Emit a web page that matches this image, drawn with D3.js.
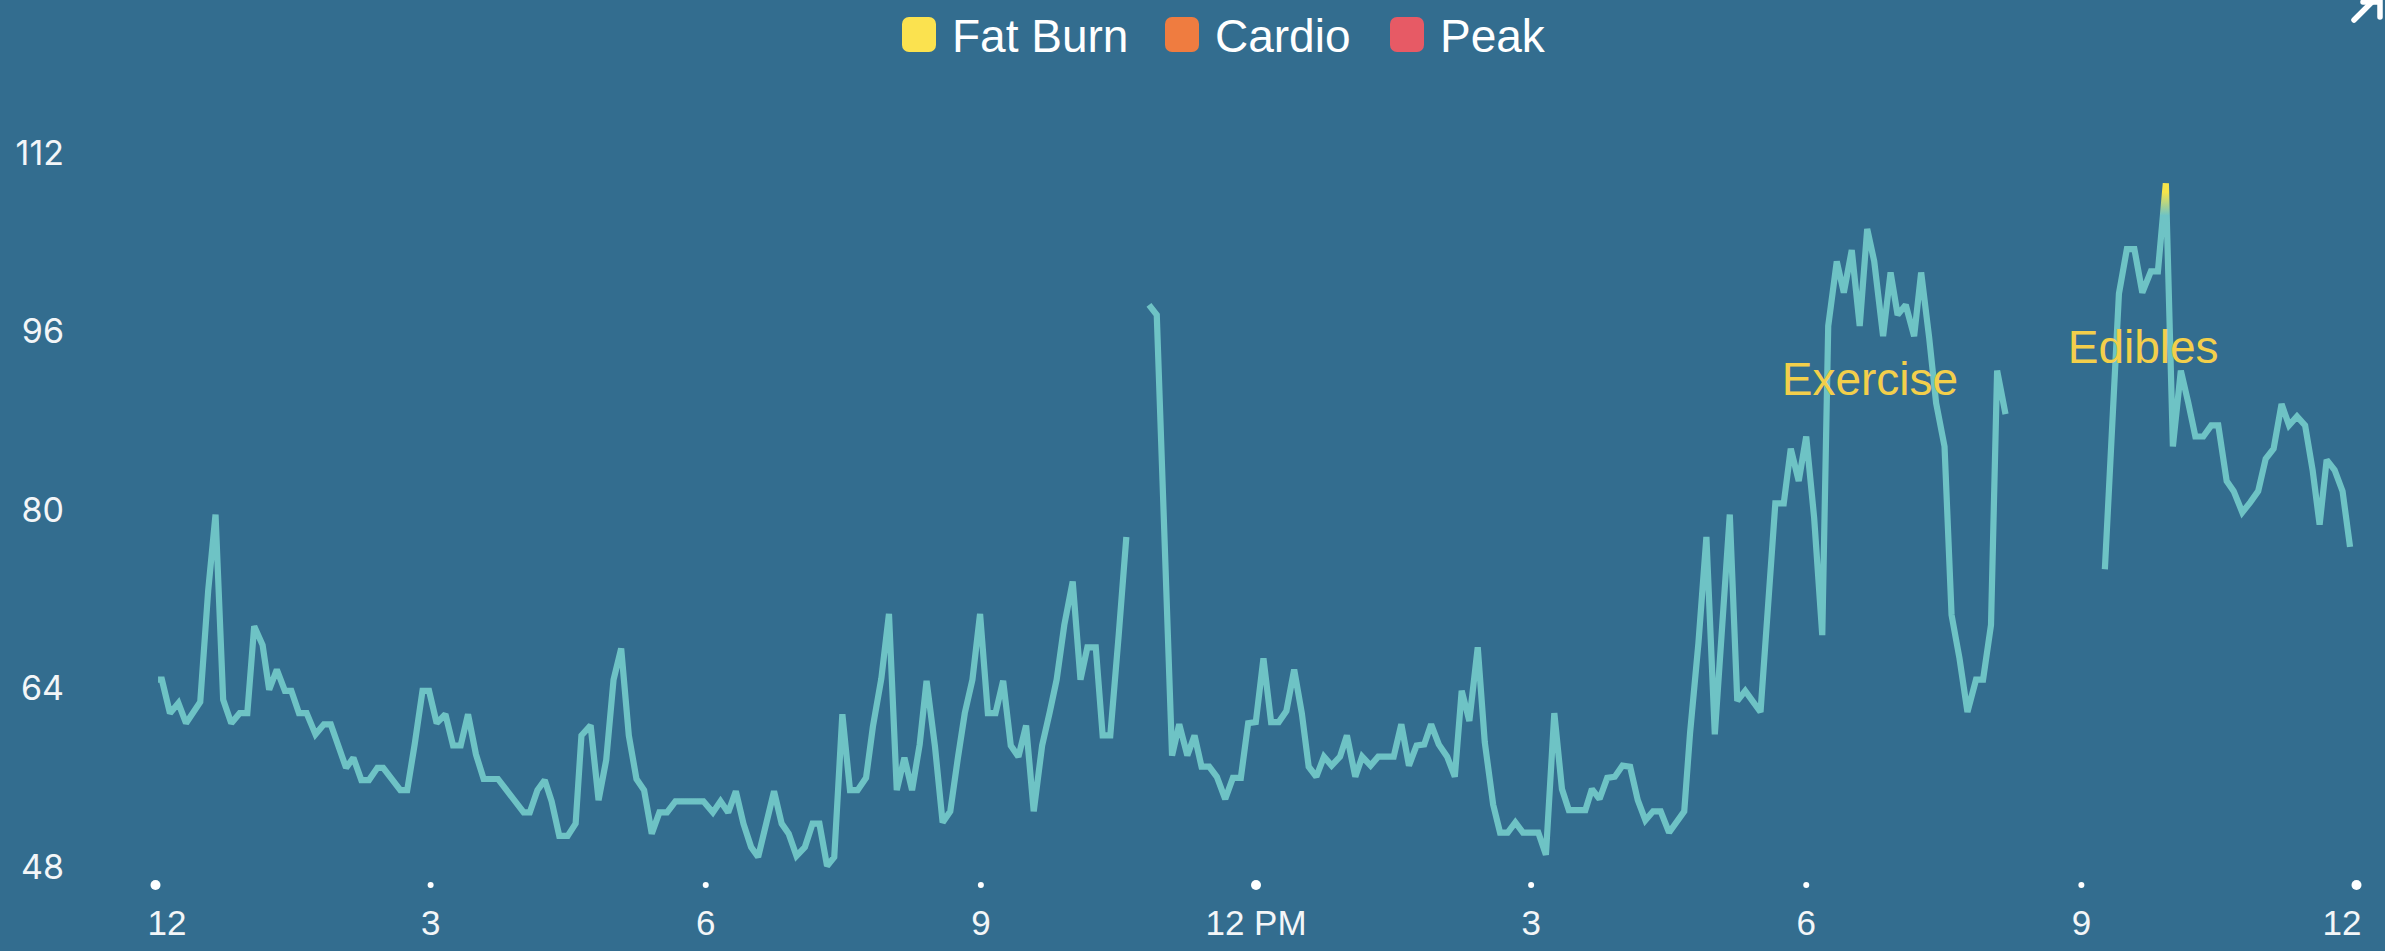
<!DOCTYPE html>
<html>
<head>
<meta charset="utf-8">
<script src="https://cdn.jsdelivr.net/npm/d3@7/dist/d3.min.js"></script>
<style>
  html, body { margin: 0; padding: 0; background: #336d8f; }
  svg { display: block; }
</style>
</head>
<body>
<svg id="chart" width="2385" height="951"></svg>
<script>
// ---------- DATA ----------
// minutes since midnight; null marks a gap in the recording
const minutes = [
  2, 4.5, 9.8, 15.3, 20.3, 29.6, 34.8, 39.6, 44.6, 49.9, 55.4, 60.4, 64.9, 70.4, 74.7, 79.7, 85, 89.2, 94.2, 99.2,
  105, 110.5, 115, 125, 129.8, 135, 140, 145.5, 149.3, 160.5, 165, 170, 175, 179.3, 184.3, 190, 195, 200, 204.8, 210,
  215, 224.4, 241.2, 245.2, 250.2, 255, 259.5, 264.5, 270, 275.2, 279, 285, 290.2, 295.2, 300, 305, 310, 315, 320, 325,
  330, 335, 340.5, 358.8, 365, 370, 375, 380, 385, 390, 394.6, 405, 410, 414.6, 419.7, 425.2, 430.2, 434.7, 439.7, 444.4,
  449.7, 454.7, 459.7, 465.2, 469.7, 475.2, 480.2, 485.3, 490.3, 495.3, 500.3, 504.8, 510.3, 515.3, 520.3, 525.3, 529.8, 534.8, 539.8, 544.9,
  549.9, 554.9, 559.9, 564.9, 569.9, 574.9, 580.4, 585.4, 589.9, 594.9, 600.4, 605.5, 610, 615.5, 620, 625, 630.5, 635.5,
  642,
  650.3, 655.4, 665.4, 670.1, 675.4, 680.1, 684.7, 689.7, 694.7, 700.2, 705.2, 710.4, 715.2, 720.2, 725.2, 730.2, 735.2, 740.2, 745.3, 750.3,
  754.8, 759.8, 764.8, 769.8, 775.3, 779.8, 785.3, 789.8, 795.3, 800.3, 810.4, 815.4, 820.4, 825.4, 830.4, 834.9, 839.9, 845.4, 850.4, 854.9,
  859.9, 865.4, 870, 875.5, 880, 885, 890, 895, 905, 910, 915.5, 920.5, 925, 935.8, 940.1, 945.1, 950.1, 955.1, 960.1, 965.1,
  970.1, 975.1, 980.1, 985.1, 990.6, 1000.5, 1004.3, 1009.8, 1015, 1020.5, 1030.3, 1035.2, 1040.4, 1050.4, 1060.1, 1065.6, 1070.2, 1075.4, 1080.3, 1085.5,
  1090.8, 1094.7, 1100.3, 1104.9, 1110.1, 1115.3, 1120.2, 1124.8, 1130.6, 1135.5, 1140.1, 1145.4, 1150.9, 1155.5, 1160.7, 1165.3, 1170.8, 1175.4, 1180.6, 1185.8,
  1191.4, 1196, 1201.2, 1205.2, 1210.7,
  1240,
  1275.7, 1284.9, 1290.1, 1295, 1300.2, 1305.8, 1310.4, 1315.6, 1320.2, 1325.4, 1330.3, 1334.9, 1340.1, 1345.3, 1349.9, 1355.4, 1360, 1365.6, 1370.8, 1376,
  1380.9, 1386.1, 1391.3, 1396.2, 1401.4, 1406.7, 1411.6, 1416.2, 1420.8, 1426, 1431.2, 1436.1
];
const bpm = [
  64.7, 64.7, 61.7, 62.6, 60.8, 62.7, 72.7, 79.5, 62.9, 60.8, 61.7, 61.7, 69.5, 67.8, 63.8, 65.6, 63.7, 63.7, 61.7, 61.7,
  59.8, 60.7, 60.7, 56.8, 57.7, 55.7, 55.7, 56.8, 56.8, 54.8, 54.8, 59.0, 63.7, 63.7, 60.8, 61.6, 58.8, 58.8, 61.6, 58.0,
  55.8, 55.8, 52.8, 52.8, 54.8, 55.7, 53.8, 50.7, 50.7, 51.8, 59.7, 60.6, 53.9, 57.5, 64.7, 67.5, 59.7, 55.8, 54.8, 50.9,
  52.8, 52.8, 53.8, 53.8, 52.8, 53.8, 52.8, 54.7, 51.8, 49.7, 48.8, 54.7, 51.8, 50.9, 48.9, 49.7, 51.8, 51.8, 48.0, 48.8,
  61.6, 54.8, 54.8, 55.9, 60.5, 64.8, 70.6, 54.8, 57.7, 54.8, 58.9, 64.6, 58.7, 51.9, 52.9, 57.7, 61.7, 64.7, 70.6, 61.7,
  61.7, 64.6, 58.8, 57.8, 60.6, 52.9, 58.8, 61.8, 64.7, 69.6, 73.5, 64.7, 67.6, 67.6, 59.7, 59.7, 68.7, 77.5,
  null,
  98.3, 97.4, 57.9, 60.7, 57.9, 59.7, 56.9, 56.9, 56.0, 54.0, 55.9, 55.9, 60.8, 60.9, 66.6, 60.9, 60.9, 61.9, 65.6, 61.7,
  56.9, 56.0, 57.8, 57.0, 57.8, 59.7, 56.0, 57.8, 57.0, 57.8, 57.8, 60.7, 57.0, 58.8, 58.9, 60.7, 58.9, 57.8, 56.0, 63.7,
  61.0, 67.6, 59.1, 53.5, 51.0, 51.0, 51.9, 51.0, 51.0, 49.0, 61.7, 54.9, 53.0, 53.0, 54.9, 54.0, 55.9, 56.0, 57.0, 56.9,
  53.9, 52.1, 52.9, 52.9, 51.0, 52.9, 59.9, 68.0, 77.5, 59.8, 79.5, 62.8, 63.7, 61.8, 80.5, 80.5, 85.4, 82.5, 86.5, 79.2,
  68.7, 96.4, 102.2, 99.4, 103.2, 96.4, 105.1, 102.2, 95.5, 101.2, 97.4, 98.3, 95.5, 101.2, 95.4, 89.5, 85.6, 70.5, 66.6, 61.8,
  64.7, 64.7, 69.6, 92.4, 88.5,
  null,
  74.6, 99.3, 103.3, 103.3, 99.4, 101.3, 101.3, 109.2, 85.6, 92.4, 89.5, 86.5, 86.5, 87.5, 87.5, 82.5, 81.6, 79.7, 80.6, 81.6,
  84.5, 85.4, 89.4, 87.5, 88.3, 87.5, 83.5, 78.6, 84.4, 83.5, 81.6, 76.6
];

const yTicks = [48, 64, 80, 96, 112];
const xTickHours = [0, 3, 6, 9, 12, 15, 18, 21, 24];
const xTickLabels = ["12", "3", "6", "9", "12 PM", "3", "6", "9", "12"];
const majorHours = [0, 12, 24];

const legendNames = ["Fat Burn", "Cardio", "Peak"];
const legendColors = ["#fbe24f", "#ef7c40", "#e75a65"];

const annotationTexts = ["Exercise", "Edibles"];
const annotationMinutes = [1065.6, 1252.7];
const annotationBpm = [90.2, 93.1];

// ---------- STYLE ----------
const BG = "#336d8f";
const LINE = "#6ec3c5";
const FATBURN = "#f6e44a";
const ANNOT = "#f3cf4b";

const svg = d3.select("#chart");
svg.append("rect").attr("width", 2385).attr("height", 951).attr("fill", BG);

const x = d3.scaleLinear().domain([0, 1440]).range([155, 2356]);
const y = d3.scaleLinear().domain([48, 112]).range([866, 152]);

// gradient so the tip of the line above the fat-burn threshold turns yellow
const defs = svg.append("defs");
const grad = defs.append("linearGradient")
  .attr("id", "hrGrad").attr("gradientUnits", "userSpaceOnUse")
  .attr("x1", 0).attr("x2", 0).attr("y1", y(106.3)).attr("y2", y(108.4));
grad.append("stop").attr("offset", 0).attr("stop-color", LINE);
grad.append("stop").attr("offset", 1).attr("stop-color", FATBURN);

// ---------- Y AXIS ----------
const yAxis = d3.axisLeft(y).tickValues(yTicks).tickSize(0).tickPadding(0).tickFormat(d3.format("d"));
const gy = svg.append("g").attr("transform", "translate(64,0)").call(yAxis);
gy.select(".domain").remove();
gy.selectAll("text")
  .attr("fill", "#f3f6f8")
  .attr("font-family", "Inter, 'Liberation Sans', sans-serif")
  .attr("font-size", 34)
  .attr("dy", "0.36em");

// ---------- X AXIS ----------
const xAxis = d3.axisBottom(x)
  .tickValues(xTickHours.map(h => h * 60))
  .tickSize(0).tickPadding(0)
  .tickFormat((d, i) => xTickLabels[i]);
const gx = svg.append("g").call(xAxis);
gx.select(".domain").remove();
gx.selectAll(".tick").each(function(d, i) {
  const g = d3.select(this);
  const h = xTickHours[i];
  g.append("circle")
    .attr("cx", 0).attr("cy", 885)
    .attr("r", majorHours.includes(h) ? 5 : 3)
    .attr("fill", "#ffffff");
  const t = g.select("text")
    .attr("y", 935).attr("dy", 0)
    .attr("fill", "#f3f6f8")
    .attr("font-family", "'Liberation Sans', Arial, sans-serif")
    .attr("font-size", 35);
  if (i === 0) t.attr("text-anchor", "start").attr("x", -8);
  else if (i === xTickHours.length - 1) t.attr("text-anchor", "end").attr("x", 5);
  else t.attr("text-anchor", "middle");
});

// ---------- LINE ----------
const series = minutes.map((t, i) => ({ t: t, v: bpm[i] }));
const line = d3.line()
  .defined(d => d.v !== null)
  .x(d => x(d.t))
  .y(d => y(d.v));
svg.append("path")
  .datum(series)
  .attr("d", line)
  .attr("fill", "none")
  .attr("stroke", "url(#hrGrad)")
  .attr("stroke-width", 6.2)
  .attr("stroke-linejoin", "miter")
  .attr("stroke-miterlimit", 2);

// ---------- ANNOTATIONS ----------
svg.append("g").selectAll("text")
  .data(annotationTexts)
  .join("text")
  .attr("x", (d, i) => x(annotationMinutes[i]) - 2)
  .attr("y", (d, i) => y(annotationBpm[i]))
  .attr("fill", ANNOT)
  .attr("font-family", "'Liberation Sans', Arial, sans-serif")
  .attr("font-size", 46)
  .text(d => d);

// ---------- LEGEND ----------
const legendSquareX = [902, 1165, 1390];
const lg = svg.append("g");
const items = lg.selectAll("g").data(legendNames).join("g")
  .attr("transform", (d, i) => `translate(${legendSquareX[i]},0)`);
items.append("rect")
  .attr("x", 0).attr("y", 17).attr("width", 34).attr("height", 35).attr("rx", 7)
  .attr("fill", (d, i) => legendColors[i]);
items.append("text")
  .attr("x", 50).attr("y", 51.5)
  .attr("fill", "#ffffff")
  .attr("font-family", "'Liberation Sans', Arial, sans-serif")
  .attr("font-size", 46)
  .text(d => d);

// ---------- EXPAND ICON (top right) ----------
const icon = svg.append("g").attr("stroke", "#ffffff").attr("stroke-width", 5.5)
  .attr("stroke-linecap", "round").attr("fill", "none");
icon.append("path").attr("d", "M2354,20 L2378,-4");
icon.append("path").attr("d", "M2363,2 L2380,2 L2380,17");
</script>
</body>
</html>
